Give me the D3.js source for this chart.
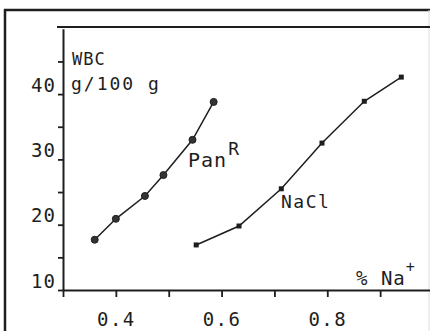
<!DOCTYPE html>
<meta charset="utf-8">
<script src="https://d3js.org/d3.v7.min.js"></script>
<style>
  body { margin: 0; background: #fff; }
  svg text { font-family: "DejaVu Sans Mono", monospace; fill: #1e1e1e; }
</style>
<div id="chart"></div>
<script>
// data (x = % Na+, y = WBC g/100 g)
var panX = [0.36, 0.40, 0.455, 0.49, 0.545, 0.585];
var panY = [17.7, 20.9, 24.4, 27.6, 33.0, 38.8];
var naclX = [0.552, 0.633, 0.713, 0.79, 0.87, 0.94];
var naclY = [16.9, 19.8, 25.5, 32.5, 38.9, 42.6];

var xTicks = [0.3, 0.4, 0.5, 0.6, 0.7, 0.8, 0.9];
var xTickLabels = [0.4, 0.6, 0.8];
var yTicks = [10, 15, 20, 25, 30, 35, 40, 45];
var yTickLabels = [10, 20, 30, 40];

var W = 430, H = 331;
var ink = "#1e1e1e";

var svg = d3.select("#chart").append("svg")
  .attr("width", W)
  .attr("height", H)
  .style("display", "block");

var x = d3.scaleLinear().domain([0.3, 1.0]).range([63, 433]);
var y = d3.scaleLinear().domain([10, 50]).range([290, 28.8]);

// outer frame of the figure
svg.append("line").attr("x1", 4).attr("x2", W).attr("y1", 10).attr("y2", 10)
  .attr("stroke", ink).attr("stroke-width", 2.5);
svg.append("line").attr("x1", 5).attr("x2", 5).attr("y1", 9).attr("y2", H)
  .attr("stroke", ink).attr("stroke-width", 2.5);
svg.append("line").attr("x1", 429).attr("x2", 429).attr("y1", 10).attr("y2", H)
  .attr("stroke", "#ddd").attr("stroke-width", 1);
// top edge of the plot box
svg.append("line").attr("x1", 57).attr("x2", W).attr("y1", 27).attr("y2", 27)
  .attr("stroke", ink).attr("stroke-width", 2);

// y axis
var yAxis = svg.append("g")
  .attr("transform", "translate(" + x(0.3) + ",0)")
  .call(d3.axisLeft(y).tickValues(yTicks).tickSize(5).tickSizeOuter(0)
    .tickFormat(function(d) { return yTickLabels.indexOf(d) >= 0 ? d : ""; }));
yAxis.select(".domain").attr("stroke", ink).attr("stroke-width", 2);
yAxis.selectAll(".tick line").attr("stroke", ink).attr("stroke-width", 1.8);
yAxis.selectAll(".tick text")
  .attr("x", -7).attr("y", -3).attr("dy", 0)
  .style("font-size", "19px").style("letter-spacing", "1px");

// x axis
var xAxis = svg.append("g")
  .attr("transform", "translate(0," + y(10) + ")")
  .call(d3.axisBottom(x).tickValues(xTicks).tickSize(7).tickSizeOuter(0)
    .tickFormat(function(d) {
      return xTickLabels.some(function(v) { return Math.abs(v - d) < 1e-9; }) ? d3.format(".1f")(d) : "";
    }));
xAxis.select(".domain").attr("stroke", ink).attr("stroke-width", 2);
xAxis.selectAll(".tick line").attr("stroke", ink).attr("stroke-width", 1.8);
xAxis.selectAll(".tick text")
  .attr("y", 36).attr("dy", 0)
  .style("font-size", "19px").style("letter-spacing", "1.5px");

// axis titles
svg.append("text").attr("x", 72).attr("y", 65).text("WBC")
  .style("font-size", "17px").style("letter-spacing", "1px");
svg.append("text").attr("x", 71).attr("y", 90).text("g/100 g")
  .style("font-size", "18px").style("letter-spacing", "2px");

var naLab = svg.append("text").attr("x", 356).attr("y", 285)
  .style("font-size", "19px").style("letter-spacing", "1px");
naLab.append("tspan").text("% Na");
naLab.append("tspan").attr("dy", -13).style("font-size", "15px").text("+");

var line = d3.line()
  .x(function(d) { return x(d[0]); })
  .y(function(d) { return y(d[1]); });

var pan = panX.map(function(v, i) { return [v, panY[i]]; });
var nacl = naclX.map(function(v, i) { return [v, naclY[i]]; });

svg.append("path").datum(pan)
  .attr("d", line).attr("fill", "none")
  .attr("stroke", ink).attr("stroke-width", 1.5);
svg.append("path").datum(nacl)
  .attr("d", line).attr("fill", "none")
  .attr("stroke", ink).attr("stroke-width", 1.5);

svg.selectAll(".pan-pt").data(pan).enter().append("circle")
  .attr("class", "pan-pt")
  .attr("cx", function(d) { return x(d[0]); })
  .attr("cy", function(d) { return y(d[1]); })
  .attr("r", 3.5)
  .attr("fill", "#333").attr("stroke", ink).attr("stroke-width", 1);

svg.selectAll(".nacl-pt").data(nacl).enter().append("rect")
  .attr("class", "nacl-pt")
  .attr("x", function(d) { return x(d[0]) - 2.5; })
  .attr("y", function(d) { return y(d[1]) - 2.5; })
  .attr("width", 5).attr("height", 5)
  .attr("fill", ink);

// series labels
var panLab = svg.append("text").attr("x", 188).attr("y", 167)
  .style("font-size", "20px").style("letter-spacing", "1px");
panLab.append("tspan").text("Pan");
panLab.append("tspan").attr("dy", -12).attr("dx", 1).style("font-size", "18px").text("R");

svg.append("text").attr("x", 281).attr("y", 208).text("NaCl")
  .style("font-size", "18px").style("letter-spacing", "1.5px");
</script>
